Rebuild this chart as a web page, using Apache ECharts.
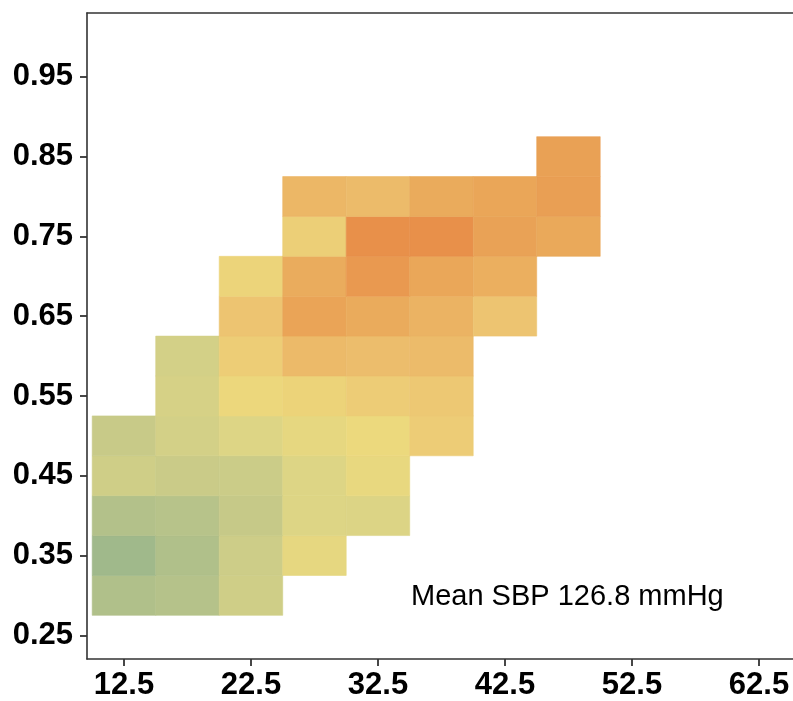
<!DOCTYPE html>
<html>
<head>
<meta charset="utf-8">
<title>Mean SBP heatmap</title>
<script src="https://cdn.jsdelivr.net/npm/echarts@6/dist/echarts.min.js"></script>
<style>
  html, body { margin: 0; padding: 0; background: #ffffff; }
  #chart { width: 793px; height: 701px; }
</style>
</head>
<body>
<div id="chart"></div>
<script>
// Bin centres along each axis
const xCenters = [12.5, 17.5, 22.5, 27.5, 32.5, 37.5, 42.5, 47.5];
const yCenters = [0.30, 0.35, 0.40, 0.45, 0.50, 0.55, 0.60, 0.65, 0.70, 0.75, 0.80, 0.85];
// Bin widths
const binWidthX = 5;
const binWidthY = 0.05;

// Mean SBP (mmHg) per bin, one array per y bin (columns follow xCenters); null = empty bin
const sbp030 = [114.5, 115.6, 121.3, null, null, null, null, null];
const sbp035 = [110.0, 114.4, 120.8, 128.0, null, null, null, null];
const sbp040 = [115.2, 116.0, 119.2, 125.0, 124.7, null, null, null];
const sbp045 = [121.3, 120.0, 120.3, 125.0, 128.7, null, null, null];
const sbp050 = [119.6, 122.4, 125.0, 128.0, 130.0, 132.8, null, null];
const sbp055 = [null, 123.2, 130.5, 131.4, 132.8, 133.7, null, null];
const sbp060 = [null, 122.4, 132.7, 136.6, 136.0, 136.4, null, null];
const sbp065 = [null, null, 134.6, 141.0, 139.6, 138.0, 134.6, null];
const sbp070 = [null, null, 131.0, 139.4, 143.2, 140.4, 138.8, null];
const sbp075 = [null, null, null, 132.2, 145.0, 145.0, 141.4, 140.0];
const sbp080 = [null, null, null, 137.2, 136.4, 139.6, 140.6, 142.0];
const sbp085 = [null, null, null, null, null, null, null, 141.6];
const sbpRows = [sbp030, sbp035, sbp040, sbp045, sbp050, sbp055,
                 sbp060, sbp065, sbp070, sbp075, sbp080, sbp085];

// Tick labels
const xTicks = [12.5, 22.5, 32.5, 42.5, 52.5, 62.5];
const yTicks = [0.25, 0.35, 0.45, 0.55, 0.65, 0.75, 0.85, 0.95];

const annotation = 'Mean SBP 126.8 mmHg';

// Flatten bins into [x, y, sbp] records
const cells = [];
sbpRows.forEach(function (row, i) {
  row.forEach(function (v, j) {
    if (v !== null) cells.push([xCenters[j], yCenters[i], v]);
  });
});

const axisColor = '#333333';
const labelStyle = {
  color: '#000000',
  fontFamily: 'Liberation Sans, Arial, sans-serif',
  fontWeight: 'bold',
  fontSize: 31
};

const chart = echarts.init(document.getElementById('chart'), null, { renderer: 'canvas' });

chart.setOption({
  animation: false,
  backgroundColor: '#ffffff',
  grid: { left: 87, right: 0, top: 13, bottom: 42 },
  xAxis: [{
    type: 'value',
    min: 9.59,
    max: 65.18,
    axisLine: { show: true, lineStyle: { color: axisColor, width: 1.6 } },
    axisTick: { show: true, length: 7, customValues: xTicks, lineStyle: { color: axisColor, width: 1.8 } },
    axisLabel: Object.assign({
      customValues: xTicks,
      margin: 11,
      formatter: function (v) { return v.toFixed(1); }
    }, labelStyle),
    splitLine: { show: false }
  }, {
    // top border of the panel
    type: 'value',
    position: 'top',
    min: 9.59,
    max: 65.18,
    axisLine: { show: true, lineStyle: { color: axisColor, width: 1.6 } },
    axisTick: { show: false },
    axisLabel: { show: false },
    splitLine: { show: false }
  }],
  yAxis: {
    type: 'value',
    min: 0.2203,
    max: 1.03,
    axisLine: { show: true, lineStyle: { color: axisColor, width: 1.6 } },
    axisTick: { show: true, length: 7, customValues: yTicks, lineStyle: { color: axisColor, width: 1.8 } },
    axisLabel: Object.assign({
      customValues: yTicks,
      margin: 14,
      formatter: function (v) { return v.toFixed(2); }
    }, labelStyle),
    splitLine: { show: false }
  },
  visualMap: {
    show: false,
    type: 'continuous',
    seriesIndex: 0,
    dimension: 2,
    min: 110,
    max: 145,
    inRange: {
      color: ['#a0b98b', '#b2c18a', '#cacb88', '#ddd585', '#ecd97d', '#edc270', '#eaa95a', '#e8904a']
    }
  },
  series: [{
    type: 'custom',
    xAxisIndex: 0,
    yAxisIndex: 0,
    data: cells,
    encode: { x: 0, y: 1 },
    renderItem: function (params, api) {
      const x = api.value(0);
      const y = api.value(1);
      const p1 = api.coord([x - binWidthX / 2, y + binWidthY / 2]);
      const p2 = api.coord([x + binWidthX / 2, y - binWidthY / 2]);
      const c = api.visual('color');
      return {
        type: 'rect',
        shape: { x: p1[0], y: p1[1], width: p2[0] - p1[0], height: p2[1] - p1[1] },
        style: { fill: c, stroke: c, lineWidth: 0.6 }
      };
    }
  }],
  graphic: [{
    type: 'text',
    left: 411,
    top: 582,
    style: {
      text: annotation,
      fill: '#000000',
      fontFamily: 'Liberation Sans, Arial, sans-serif',
      fontSize: 29
    }
  }]
});
</script>
</body>
</html>
